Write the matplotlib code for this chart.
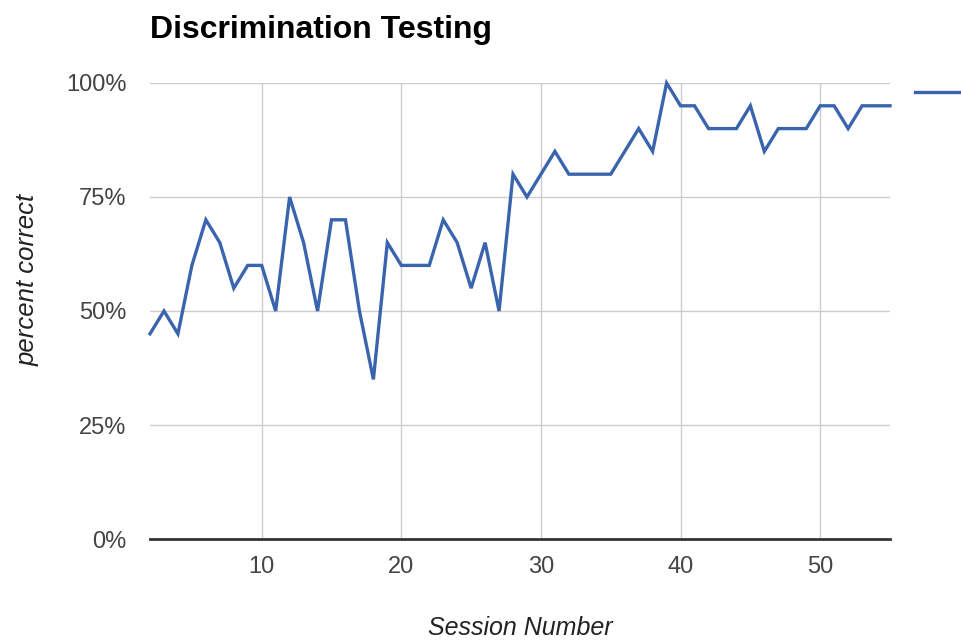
import matplotlib
matplotlib.use("Agg")
import matplotlib.pyplot as plt
from matplotlib.ticker import FuncFormatter

sessions = list(range(2, 56))
percent_correct = [45, 50, 45, 60, 70, 65, 55, 60, 60, 50,
                   75, 65, 50, 70, 70, 50, 35, 65, 60, 60,
                   60, 70, 65, 55, 65, 50, 80, 75, 80, 85,
                   80, 80, 80, 80, 85, 90, 85, 100, 95, 95,
                   90, 90, 90, 95, 85, 90, 90, 90, 95, 95,
                   90, 95, 95, 95]
x_ticks = [10, 20, 30, 40, 50]
y_ticks = [0, 25, 50, 75, 100]

plt.rcParams['font.family'] = ['Liberation Sans', 'DejaVu Sans']

fig = plt.figure(figsize=(9.61, 6.40), dpi=100)
ax = fig.add_axes([150/961, 1-539/640, (890-150)/961, (539-83)/640])

line, = ax.plot(sessions, percent_correct, color='#3a64ad', lw=2.4,
                solid_joinstyle='miter', zorder=3, clip_on=False)

ax.set_xlim(2, 55)
ax.set_ylim(0, 100)
ax.set_xticks(x_ticks)
ax.set_yticks(y_ticks)
ax.yaxis.set_major_formatter(FuncFormatter(lambda v, p: f"{int(v)}%"))
ax.grid(True, color='#cccccc', lw=1)
ax.set_axisbelow(True)
for s in ['top', 'right', 'left']:
    ax.spines[s].set_visible(False)
ax.spines['bottom'].set_color('#333333')
ax.spines['bottom'].set_linewidth(2)
ax.spines['bottom'].set_zorder(4)
ax.tick_params(length=0, labelsize=17, colors='#444444')
ax.tick_params(axis='x', pad=12)
ax.tick_params(axis='y', pad=17)

ax.set_xlabel('Session Number', fontsize=18, style='italic', color='#222222')
ax.set_ylabel('percent correct', fontsize=18.5, style='italic', color='#222222')
ax.xaxis.set_label_coords((520-150)/740, (539-616)/456)
ax.yaxis.set_label_coords((40-150)/740, (539-280)/456)

fig.text(150/961, 1-30/640, 'Discrimination Testing', fontsize=23, fontweight='bold',
         ha='left', va='center', color='#000000')

ax.legend(handles=[line], labels=[''], loc='center left',
          bbox_to_anchor=(915/961, 1-93/640), bbox_transform=fig.transFigure,
          frameon=False, handlelength=3.2, borderpad=0, borderaxespad=0)

fig.savefig('out.png', dpi=100)
